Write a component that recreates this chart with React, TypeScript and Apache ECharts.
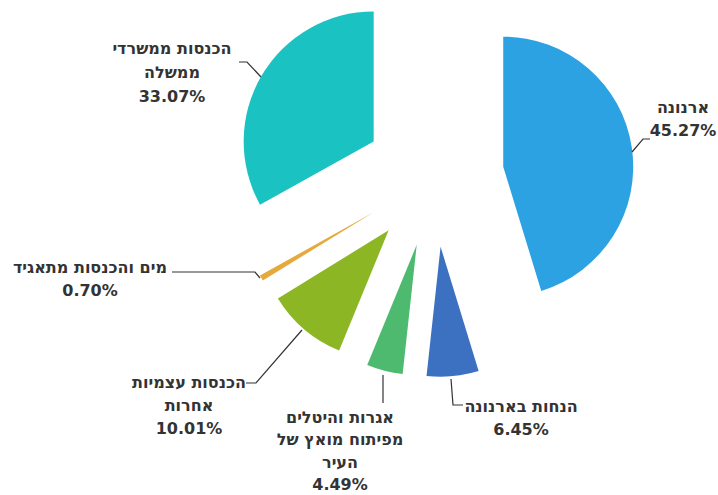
import React, { useEffect, useRef } from 'react';
import * as echarts from 'echarts';

// ---- data ----
const categories = [
  'ארנונה',
  'הנחות בארנונה',
  'אגרות והיטלים\nמפיתוח מואץ של\nהעיר',
  'הכנסות עצמיות\nאחרות',
  'מים והכנסות מתאגיד',
  'הכנסות ממשרדי\nממשלה',
];
const shares = [45.27, 6.45, 4.49, 10.01, 0.7, 33.07];
const colors = ['#2DA2E2', '#3C71C2', '#4DBA70', '#8DB625', '#E5A93C', '#1AC2C2'];

// ---- label placement (layout only) ----
const labelSpots = [
  { x: 683, y: 96, lh: 23, line: [[632, 152], [643, 139], [650, 139]] },
  { x: 521, y: 395, lh: 23, line: [[451, 379], [453, 405], [463, 405]] },
  { x: 340, y: 406, lh: 22.5, line: [[383, 375], [383, 403]] },
  { x: 189, y: 371, lh: 23, line: [[302, 330], [256, 383], [246, 383]] },
  { x: 90, y: 256, lh: 23, line: [[260, 278], [255, 272], [172, 272]] },
  { x: 172, y: 36, lh: 24, line: [[261, 77], [247, 62], [239, 62]] },
];

const FONT_FAMILY = 'DejaVu Sans, Liberation Sans, Arial, sans-serif';

export default function App() {
  const ref = useRef<HTMLDivElement>(null);
  useEffect(() => {
    if (!ref.current) return;
    const chart = echarts.init(ref.current, undefined, { renderer: 'svg' });

    const labelTexts = categories.map((name, i) => ({
      type: 'text',
      x: labelSpots[i].x,
      y: labelSpots[i].y,
      z: 10,
      silent: true,
      style: {
        text: `${name}\n${shares[i].toFixed(2)}%`,
        align: 'center',
        verticalAlign: 'top',
        fill: '#333333',
        fontFamily: FONT_FAMILY,
        fontWeight: 'bold',
        fontSize: 16,
        lineHeight: labelSpots[i].lh,
      },
    }));
    const leaderLines = categories.map((_, i) => ({
      type: 'polyline',
      z: 10,
      silent: true,
      shape: { points: labelSpots[i].line },
      style: { stroke: '#333333', lineWidth: 1.2, fill: null },
    }));

    chart.setOption({
      animation: false,
      backgroundColor: '#ffffff',
      graphic: [...leaderLines, ...labelTexts],
      series: [
        {
          type: 'pie',
          center: [434, 177],
          radius: 130,
          startAngle: 90,
          clockwise: true,
          selectedMode: 'multiple',
          selectedOffset: 70,
          avoidLabelOverlap: false,
          emphasis: { disabled: true },
          label: { show: false },
          labelLine: { show: false },
          data: categories.map((name, i) => ({
            name,
            value: shares[i],
            selected: true,
            itemStyle: { color: colors[i] },
          })),
        },
      ],
    });
    return () => chart.dispose();
  }, []);
  return (
    <div
      ref={ref}
      style={{ position: 'absolute', left: 0, top: 0, width: 718, height: 495, background: '#fff' }}
    />
  );
}
